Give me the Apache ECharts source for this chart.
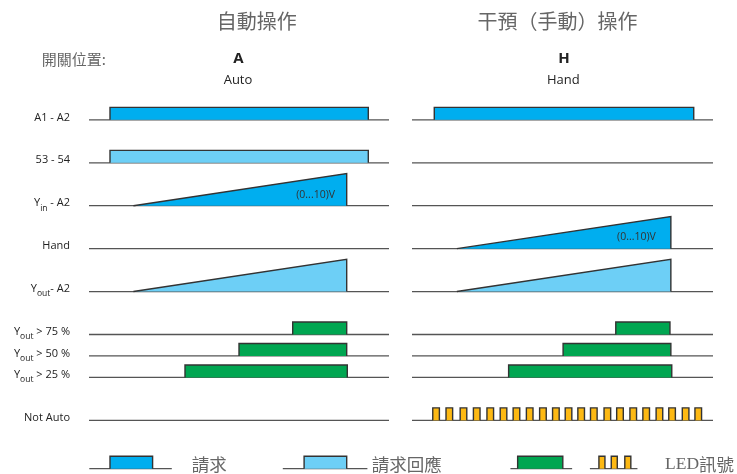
<!DOCTYPE html>
<html><head><meta charset="utf-8">
<script src="https://cdn.jsdelivr.net/npm/echarts/dist/echarts.min.js"></script>
<style>html,body{margin:0;padding:0;background:#fff}#c{width:737px;height:474px}</style>
</head><body><div id="c"></div>
<script>
// ---- data (time axis of each panel runs 0..100) ----
const rowLabels = ['A1 - A2', '53 - 54', 'Y{sub|in} - A2', 'Hand', 'Y{sub|out}- A2',
  'Y{sub|out} > 75 %', 'Y{sub|out} > 50 %', 'Y{sub|out} > 25 %', 'Not Auto'];
const rowPos = [0, 2, 4, 6, 8, 10, 11, 12, 14];
// [row index, start time, end time]
const autoPulses = [[0, 7, 93.1], [1, 7, 93.1], [5, 67.9, 85.9], [6, 50, 85.9], [7, 32, 86.1]];
const autoRamps = [[2, 14.8, 85.9], [4, 14.8, 85.9]];
const autoRampLabels = [[2, 82]];
const handPulses = [[0, 7.4, 93.6], [5, 67.7, 85.7], [6, 50.2, 86], [7, 32.1, 86.3]];
const handRamps = [[3, 14.9, 86], [4, 14.9, 86]];
const handRampLabels = [[3, 81]];
const handLedStarts = [6.9, 11.3, 16, 20.4, 24.9, 29.3, 33.6, 38, 42.4, 46.7, 50.9,
  55.1, 59.3, 63.8, 68, 72.4, 76.7, 81.1, 85.3, 89.8, 94];
const ledDuration = 2.2;
const rampText = '(0...10)V';
// legend samples: [line start, pulse start, pulse end, line end]
const legendBlue = [0.1, 7, 21.2, 27.6];
const legendLightBlue = [64.6, 71.7, 85.9, 92.8];
const legendGreen = [32.7, 35.1, 50.1, 53.2];
const legendLedLine = [59.1, 74.9];
const legendLedStarts = [62.1, 66.2, 70.7];
const legendLedDuration = 2;
const legendRow = 16.25;

// ---- styles ----
const BLUE = '#00aeef', LIGHT = '#6dcff6', GREEN = '#00a651', YELLOW = '#fdb913';
const rowColors = [BLUE, LIGHT, BLUE, BLUE, LIGHT, GREEN, GREEN, GREEN, YELLOW];
const H_PULSE = 0.58, H_RAMP = 1.5;
const LINE = '#555', EDGE = '#333';
const FONT = '"Open Sans", "Noto Sans", sans-serif';
const CJK = '"Noto Sans CJK TC", "Noto Sans CJK SC", sans-serif';

function pulseShape(api, s, e, y, color) {
  const a = api.coord([s, y]), b = api.coord([e, y - H_PULSE]);
  const pts = [[a[0], a[1]], [a[0], b[1]], [b[0], b[1]], [b[0], a[1]]];
  return {
    type: 'group', children: [
      { type: 'polygon', shape: { points: pts }, style: { fill: color } },
      { type: 'polyline', shape: { points: pts }, style: { stroke: EDGE, lineWidth: 1.4, fill: null } }
    ]
  };
}
function lineShape(api, s, e, y) {
  const a = api.coord([s, y]), b = api.coord([e, y]);
  return { type: 'line', shape: { x1: a[0], y1: a[1], x2: b[0], y2: b[1] }, style: { stroke: LINE, lineWidth: 1.3 } };
}

function panelSeries(gi, pulses, ramps, rampLabels) {
  const out = [];
  out.push({
    type: 'custom', xAxisIndex: gi, yAxisIndex: gi, silent: true,
    data: rowPos.map(p => [0, 100, p]),
    renderItem: (params, api) => lineShape(api, api.value(0), api.value(1), api.value(2))
  });
  out.push({
    type: 'custom', xAxisIndex: gi, yAxisIndex: gi, silent: true,
    data: pulses.map(d => [d[1], d[2], rowPos[d[0]], d[0]]),
    renderItem: (params, api) => pulseShape(api, api.value(0), api.value(1), api.value(2), rowColors[api.value(3)])
  });
  out.push({
    type: 'custom', xAxisIndex: gi, yAxisIndex: gi, silent: true,
    data: ramps.map(d => [d[1], d[2], rowPos[d[0]], d[0]]),
    renderItem: (params, api) => {
      const y = api.value(2);
      const a = api.coord([api.value(0), y]), b = api.coord([api.value(1), y - H_RAMP]);
      const pts = [[a[0], a[1]], [b[0], b[1]], [b[0], a[1]]];
      return {
        type: 'group', children: [
          { type: 'polygon', shape: { points: pts }, style: { fill: rowColors[api.value(3)] } },
          { type: 'polyline', shape: { points: pts }, style: { stroke: EDGE, lineWidth: 1.4, fill: null } }
        ]
      };
    }
  });
  out.push({
    type: 'custom', xAxisIndex: gi, yAxisIndex: gi, silent: true,
    data: rampLabels.map(d => [d[1], rowPos[d[0]]]),
    renderItem: (params, api) => {
      const p = api.coord([api.value(0), api.value(1) - 0.52]);
      return { type: 'text', style: { text: rampText, x: p[0], y: p[1], align: 'right', verticalAlign: 'middle',
        textAlign: 'right', textVerticalAlign: 'middle', fill: '#333', font: '10.5px ' + FONT } };
    }
  });
  return out;
}

const series = [];
series.push(...panelSeries(0, autoPulses, autoRamps, autoRampLabels));
series.push(...panelSeries(1, handPulses, handRamps, handRampLabels));
// LED blinking in hand mode
series.push({
  type: 'custom', xAxisIndex: 1, yAxisIndex: 1, silent: true,
  data: handLedStarts.map(s => [s, s + ledDuration, rowPos[8]]),
  renderItem: (params, api) => pulseShape(api, api.value(0), api.value(1), api.value(2), YELLOW)
});
// row labels
series.push({
  type: 'custom', xAxisIndex: 0, yAxisIndex: 0, silent: true,
  data: rowPos.map((p, i) => [0, p, i]),
  renderItem: (params, api) => {
    const p = api.coord([0, api.value(1)]);
    return { type: 'text', style: {
      text: rowLabels[api.value(2)], x: p[0] - 19, y: p[1] - 2.5,
      align: 'right', verticalAlign: 'middle', textAlign: 'right', textVerticalAlign: 'middle',
      fill: '#222', font: '11px ' + FONT, lineHeight: 19,
      rich: { sub: { fontSize: 8.5, fontFamily: FONT, fill: '#222', verticalAlign: 'bottom', lineHeight: 11 } }
    } };
  }
});
// legend samples
function legendSeries(gi, samples, color) {
  return {
    type: 'custom', xAxisIndex: gi, yAxisIndex: gi, silent: true,
    data: samples,
    renderItem: (params, api) => ({
      type: 'group', children: [
        lineShape(api, api.value(0), api.value(3), legendRow),
        pulseShape(api, api.value(1), api.value(2), legendRow, color)
      ]
    })
  };
}
series.push(legendSeries(0, [legendBlue], BLUE));
series.push(legendSeries(0, [legendLightBlue], LIGHT));
series.push(legendSeries(1, [legendGreen], GREEN));
series.push({
  type: 'custom', xAxisIndex: 1, yAxisIndex: 1, silent: true,
  data: [legendLedLine],
  renderItem: (params, api) => lineShape(api, api.value(0), api.value(1), legendRow)
});
series.push({
  type: 'custom', xAxisIndex: 1, yAxisIndex: 1, silent: true,
  data: legendLedStarts.map(s => [s, s + legendLedDuration]),
  renderItem: (params, api) => pulseShape(api, api.value(0), api.value(1), legendRow, YELLOW)
});

function txt(text, x, y, font, fill, align, rich) {
  return { type: 'text', silent: true, x: x, y: y, style: {
    text: text, font: font, fill: fill, align: align || 'center', verticalAlign: 'middle',
    textAlign: align || 'center', textVerticalAlign: 'middle', rich: rich } };
}

const chart = echarts.init(document.getElementById('c'));
chart.setOption({
  animation: false,
  grid: [
    { left: 89, width: 300, top: 98.4, height: 378 },
    { left: 412, width: 301, top: 98.4, height: 378 }
  ],
  xAxis: [
    { type: 'value', gridIndex: 0, min: 0, max: 100, show: false },
    { type: 'value', gridIndex: 1, min: 0, max: 100, show: false }
  ],
  yAxis: [
    { type: 'value', gridIndex: 0, min: -1, max: 16.5, inverse: true, show: false },
    { type: 'value', gridIndex: 1, min: -1, max: 16.5, inverse: true, show: false }
  ],
  series: series,
  graphic: [
    txt('自動操作', 256.7, 21.5, '20px ' + CJK, '#666'),
    txt('干預（手動）操作', 557.5, 21.5, '20px ' + CJK, '#666'),
    txt('開關位置:', 41.7, 59.3, '15px ' + CJK, '#666', 'left'),
    txt('A', 238.5, 59, 'bold 15px ' + FONT, '#222'),
    txt('Auto', 238, 80.5, '13px ' + FONT, '#222'),
    txt('H', 564, 58.5, 'bold 15px ' + FONT, '#222'),
    txt('Hand', 563.3, 80, '13px ' + FONT, '#222'),
    txt('請求', 191.7, 464, '17.5px ' + CJK, '#666', 'left'),
    txt('請求回應', 371.7, 464, '17.5px ' + CJK, '#666', 'left'),
    txt('{s|LED}訊號', 665, 464, '17.5px ' + CJK, '#666', 'left',
      { s: { fontFamily: '"Liberation Serif", serif', fontSize: 17.5, fill: '#666' } })
  ]
});
</script></body></html>
